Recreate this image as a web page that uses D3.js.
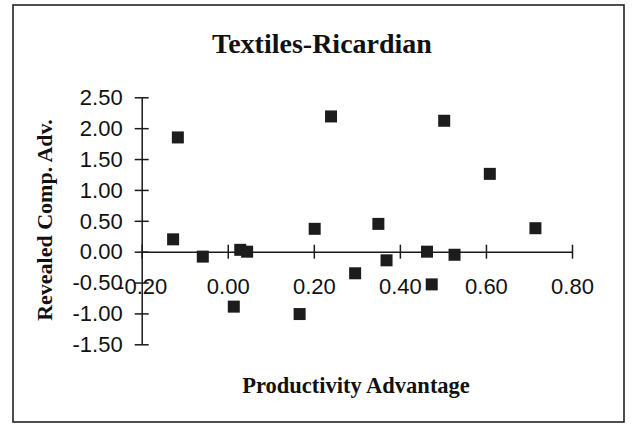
<html>

<head>
  <title>Textiles-Ricardian</title>
  <script src="https://d3js.org/d3.v7.min.js"></script>

  <style>
    body {
      margin: 0;
      background: white;
    }

    .axis path,
    .axis line {
      stroke: #1a1a1a;
      stroke-width: 1.5;
    }

    .axis text {
      font-family: "Liberation Sans", Arial, sans-serif;
      font-size: 22px;
      fill: #111;
    }

    .title {
      font-family: "Liberation Serif", "Times New Roman", serif;
      font-weight: bold;
      fill: #111;
    }
  </style>
</head>

<body>
  <svg id="scatterplot" width="633" height="424"></svg>

  <script>

    // Data: productivity advantage (x) vs revealed comp. adv. (y)
    const productivity = [-0.116, -0.127, -0.058, 0.029, 0.045, 0.014, 0.167, 0.202, 0.240,
      0.350, 0.369, 0.296, 0.463, 0.474, 0.527, 0.503, 0.609, 0.715];
    const revealed = [1.85, 0.20, -0.08, 0.03, 0.00, -0.89, -1.01, 0.37, 2.19,
      0.45, -0.14, -0.35, 0.00, -0.53, -0.05, 2.12, 1.26, 0.38];

    const xTicks = [-0.2, 0, 0.2, 0.4, 0.6, 0.8];
    const yTicks = [-1.5, -1.0, -0.5, 0, 0.5, 1.0, 1.5, 2.0, 2.5];

    const svg = d3.select("svg#scatterplot");

    // plot area (where the axis lines run)
    const plot = { left: 141.7, right: 572, top: 97.3, bottom: 344.3 };

    // outer frame around the whole chart
    svg.append("rect")
      .attr("x", 13).attr("y", 5)
      .attr("width", 611).attr("height", 417)
      .attr("fill", "white")
      .attr("stroke", "#222")
      .attr("stroke-width", 1.6);

    // scales
    const xScale = d3.scaleLinear().domain([-0.2, 0.8]).range([plot.left, plot.right]);
    const yScale = d3.scaleLinear().domain([-1.5, 2.5]).range([plot.bottom, plot.top]);

    const fmt = d => d.toFixed(2);

    // y axis sits at x = -0.20, ticks cross the line
    let leftAxis = d3.axisLeft(yScale)
      .tickValues(yTicks)
      .tickFormat(fmt)
      .tickSizeOuter(0);
    let yAxisG = svg.append("g")
      .attr("class", "y axis")
      .attr("transform", `translate(${xScale(-0.2)},0)`)
      .call(leftAxis);
    yAxisG.selectAll(".tick line").attr("x1", -7).attr("x2", 7);
    yAxisG.selectAll(".tick text").attr("x", -19).attr("dy", "0.33em");

    // x axis crosses at y = 0
    let bottomAxis = d3.axisBottom(xScale)
      .tickValues(xTicks)
      .tickFormat(fmt)
      .tickSizeOuter(0);
    let xAxisG = svg.append("g")
      .attr("class", "x axis")
      .attr("transform", `translate(0,${yScale(0)})`)
      .call(bottomAxis);
    xAxisG.selectAll(".tick line").attr("y1", -7).attr("y2", 7);
    xAxisG.selectAll(".tick text").attr("y", 42).attr("dy", 0);

    // square markers
    const size = 12;
    svg.append("g").selectAll("rect.pt")
      .data(productivity)
      .join("rect")
      .attr("class", "pt")
      .attr("x", (d, i) => xScale(d) - size / 2)
      .attr("y", (d, i) => yScale(revealed[i]) - size / 2)
      .attr("width", size)
      .attr("height", size)
      .attr("fill", "#1c1c1c");

    // titles
    svg.append("text")
      .attr("class", "title")
      .attr("x", 322).attr("y", 53)
      .attr("text-anchor", "middle")
      .style("font-size", "28px")
      .text("Textiles-Ricardian");

    svg.append("text")
      .attr("class", "title")
      .attr("x", 356).attr("y", 393)
      .attr("text-anchor", "middle")
      .style("font-size", "22.5px")
      .text("Productivity Advantage");

    svg.append("text")
      .attr("class", "title")
      .attr("transform", "translate(51.5,220) rotate(-90)")
      .attr("text-anchor", "middle")
      .style("font-size", "22px")
      .text("Revealed Comp. Adv.");

  </script>
</body>

</html>
